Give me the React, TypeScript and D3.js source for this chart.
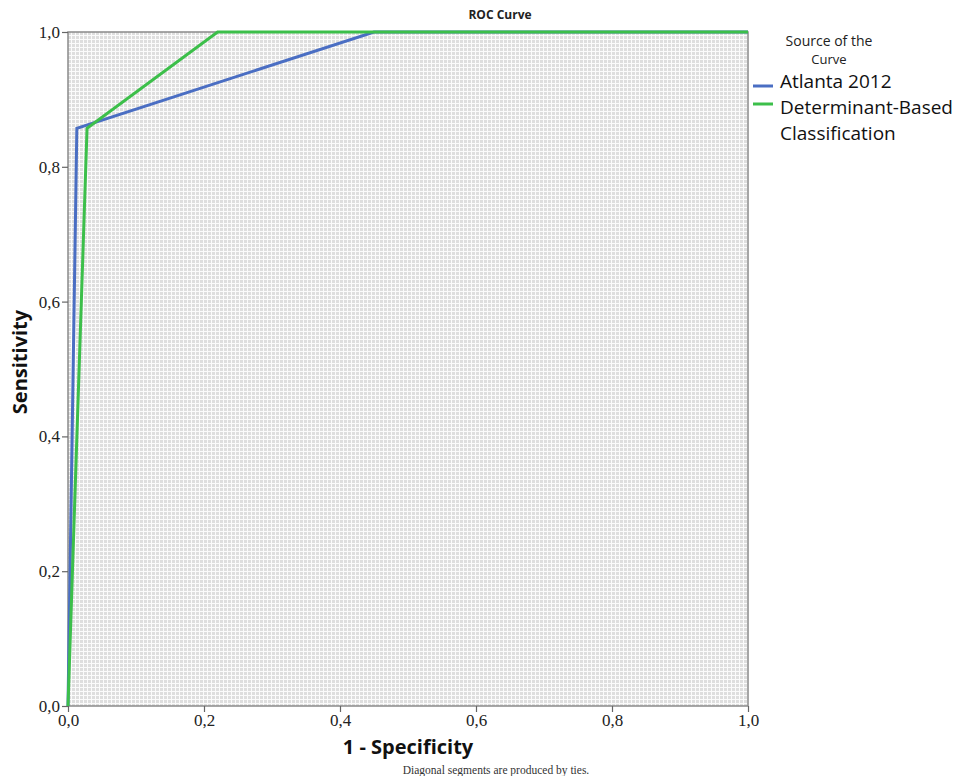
import React, { useEffect, useRef } from 'react';
import * as d3 from 'd3';

const ticks = [0, 0.2, 0.4, 0.6, 0.8, 1.0];
const seriesNames = ['Atlanta 2012', 'Determinant-Based Classification'];
const seriesColors = ['#4a6ec3', '#3cbf4a'];
// 1 - specificity, sensitivity
const atlantaFpr = [0, 0.013, 0.45, 1.0];
const atlantaTpr = [0, 0.857, 1.0, 1.0];
const dbcFpr = [0, 0.028, 0.22, 1.0];
const dbcTpr = [0, 0.857, 1.0, 1.0];

const App: React.FC = () => {
  const svgRef = useRef<SVGSVGElement>(null);

  useEffect(() => {
    if (!svgRef.current) return;
    const svg = d3.select(svgRef.current);
    svg.selectAll('*').remove();

    const W = 972;
    const H = 784;
    const margin = { top: 32, left: 68, right: W - 748, bottom: H - 706 };
    const width = W - margin.left - margin.right;
    const height = H - margin.top - margin.bottom;

    svg.attr('width', W).attr('height', H);

    // dotted SPSS-like background
    const defs = svg.append('defs');
    const pat = defs.append('pattern')
      .attr('id', 'dots')
      .attr('width', 4)
      .attr('height', 4)
      .attr('patternUnits', 'userSpaceOnUse');
    pat.append('rect').attr('width', 4).attr('height', 4).attr('fill', '#fbfbfb');
    pat.append('rect').attr('width', 3).attr('height', 3).attr('fill', '#dedede');

    const x = d3.scaleLinear().domain([0, 1]).range([0, width]);
    const y = d3.scaleLinear().domain([0, 1]).range([height, 0]);

    const g = svg.append('g').attr('transform', `translate(${margin.left},${margin.top})`);

    g.append('rect')
      .attr('width', width)
      .attr('height', height)
      .attr('fill', 'url(#dots)')
      .attr('stroke', '#8a8a8a')
      .attr('stroke-width', 1.5);

    const fmt = (d: number) => d3.format('.1f')(d).replace('.', ',');

    const yAxis = g.append('g').call(d3.axisLeft(y).tickValues(ticks).tickFormat(fmt as any).tickSize(6).tickPadding(2));
    const xAxis = g.append('g').attr('transform', `translate(0,${height})`)
      .call(d3.axisBottom(x).tickValues(ticks).tickFormat(fmt as any).tickSize(6).tickPadding(2));
    [yAxis, xAxis].forEach(a => {
      a.select('.domain').remove();
      a.selectAll('.tick line').attr('stroke', '#666').attr('stroke-width', 1.2);
      a.selectAll('.tick text')
        .attr('fill', '#222')
        .style('font-family', '"Liberation Serif", serif')
        .style('font-size', '17px');
    });

    const line = d3.line<[number, number]>().x(d => x(d[0])).y(d => y(d[1]));
    const series: [number, number][][] = [
      atlantaFpr.map((v, i) => [v, atlantaTpr[i]] as [number, number]),
      dbcFpr.map((v, i) => [v, dbcTpr[i]] as [number, number]),
    ];
    series.forEach((s, i) => {
      g.append('path')
        .datum(s)
        .attr('d', line)
        .attr('fill', 'none')
        .attr('stroke', seriesColors[i])
        .attr('stroke-width', 3)
        .attr('stroke-linejoin', 'miter');
    });

    // titles
    svg.append('text')
      .attr('x', 500).attr('y', 19)
      .attr('text-anchor', 'middle')
      .style('font-family', '"Open Sans", sans-serif')
      .style('font-weight', 'bold')
      .style('font-size', '12px')
      .attr('fill', '#222')
      .text('ROC Curve');

    svg.append('text')
      .attr('transform', `translate(27,362) rotate(-90)`)
      .attr('text-anchor', 'middle')
      .style('font-family', '"Open Sans", sans-serif')
      .style('font-weight', 'bold')
      .style('font-size', '20px')
      .attr('fill', '#111')
      .text('Sensitivity');

    svg.append('text')
      .attr('x', 408).attr('y', 754)
      .attr('text-anchor', 'middle')
      .style('font-family', '"Open Sans", sans-serif')
      .style('font-weight', 'bold')
      .style('font-size', '20px')
      .attr('fill', '#111')
      .text('1 - Specificity');

    svg.append('text')
      .attr('x', 496).attr('y', 774)
      .attr('text-anchor', 'middle')
      .style('font-family', '"Liberation Serif", serif')
      .style('font-size', '11.5px')
      .attr('fill', '#333')
      .text('Diagonal segments are produced by ties.');

    // legend
    const leg = svg.append('g');
    leg.append('text')
      .attr('x', 829).attr('y', 46)
      .attr('text-anchor', 'middle')
      .style('font-family', '"Open Sans", sans-serif')
      .style('font-size', '14px')
      .attr('fill', '#222')
      .text('Source of the');
    leg.append('text')
      .attr('x', 829).attr('y', 64)
      .attr('text-anchor', 'middle')
      .style('font-family', '"Open Sans", sans-serif')
      .style('font-size', '13px')
      .attr('fill', '#222')
      .text('Curve');

    const legRows = [
      { y: 86, baseline: 88, lines: ['Atlanta 2012'] },
      { y: 104, baseline: 114, lines: ['Determinant-Based', 'Classification'] },
    ];
    legRows.forEach((r, i) => {
      leg.append('line')
        .attr('x1', 753).attr('x2', 773)
        .attr('y1', r.y).attr('y2', r.y)
        .attr('stroke', seriesColors[i])
        .attr('stroke-width', 3);
      r.lines.forEach((t, j) => {
        leg.append('text')
          .attr('x', 780).attr('y', r.baseline + j * 26)
          .style('font-family', '"Open Sans", sans-serif')
          .style('font-size', '19px')
          .attr('fill', '#111')
          .text(t);
      });
    });
    void seriesNames;
  }, []);

  return (
    <div style={{ margin: -8 }}>
      <svg ref={svgRef} style={{ display: 'block' }}></svg>
    </div>
  );
};

export default App;
